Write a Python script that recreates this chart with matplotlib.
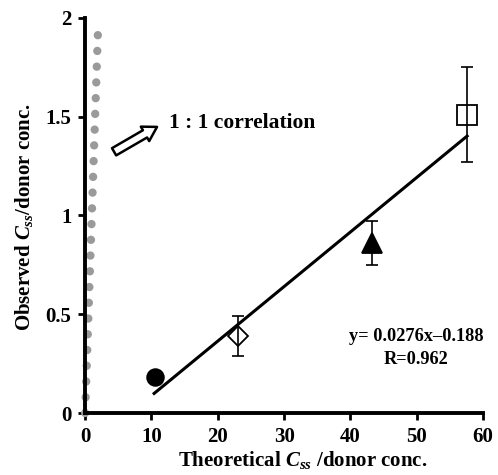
import matplotlib
matplotlib.use("Agg")
import matplotlib.pyplot as plt
import numpy as np

plt.rcParams["font.family"] = ["Liberation Serif", "DejaVu Serif"]
plt.rcParams["font.weight"] = "bold"
plt.rcParams["mathtext.fontset"] = "custom"
plt.rcParams["mathtext.rm"] = "Liberation Serif:bold"
plt.rcParams["mathtext.it"] = "Liberation Serif:italic:bold"
plt.rcParams["mathtext.bf"] = "Liberation Serif:bold"

# data
theo_css = [10.6, 23.1, 43.3, 57.6]
obs_css = [0.18, 0.39, 0.86, 1.51]
obs_err = [0.0, 0.10, 0.11, 0.24]
markers = ["o", "D", "^", "s"]
filled = [True, False, True, False]
msizes = [12, 10.5, 14, 15]

slope, intercept = 0.0276, -0.188
fit_x = [10.4, 57.6]

one_to_one = [0.0, 1.95]

fig = plt.figure(figsize=(4.98, 4.75), dpi=100)
ax = fig.add_axes([0.171, 0.1305, 0.799, 0.832])

# 1:1 line as grey dots
ax.plot(one_to_one, one_to_one, color="#9a9a9a", lw=6,
        linestyle=(0, (0.01, 1.88)), dash_capstyle="round", zorder=2,
        clip_on=False)

# regression line
fx = np.array(fit_x)
ax.plot(fx, slope * fx + intercept, color="black", lw=2.2, zorder=3)

for x, y, e, m, f, s in zip(theo_css, obs_css, obs_err, markers, filled, msizes):
    if e > 0:
        ax.errorbar(x, y, yerr=e, fmt="none", ecolor="black", elinewidth=1.2,
                    capsize=4, capthick=1.2, zorder=4)
    ax.plot(x, y, marker=m, markersize=s, linestyle="none",
            markerfacecolor="black" if f else "none",
            markeredgecolor="black", markeredgewidth=1.3, zorder=5)

ax.annotate("", xy=(11.2, 1.455), xytext=(4.0, 1.315),
            arrowprops=dict(arrowstyle="simple,head_length=1.0,head_width=1.2,tail_width=0.6",
                            facecolor="white", edgecolor="black", lw=1.8))
ax.text(12.6, 1.47, "1 : 1 correlation", fontsize=15.5, fontweight="bold",
        va="center", ha="left")

ax.text(49.9, 0.385, "y= 0.0276x\u20130.188", fontsize=13.2, fontweight="bold",
        ha="center", va="center")
ax.text(49.9, 0.27, "R=0.962", fontsize=13.2, fontweight="bold",
        ha="center", va="center")

ax.set_xlim(0, 60)
ax.set_ylim(0, 2)
ax.set_xticks([0, 10, 20, 30, 40, 50, 60])
ax.set_yticks([0, 0.5, 1, 1.5, 2])
ax.set_yticklabels(["0", "0.5", "1", "1.5", "2"])

for side in ["top", "right"]:
    ax.spines[side].set_visible(False)
for side in ["left", "bottom"]:
    ax.spines[side].set_linewidth(2.8)

ax.tick_params(axis="both", direction="out", length=5, width=2,
               labelsize=15, pad=5)
for lab in ax.get_xticklabels() + ax.get_yticklabels():
    lab.set_fontweight("bold")

ax.set_xlabel(r"Theoretical $C_{ss}$ /donor conc.", fontsize=15, fontweight="bold")
ax.set_ylabel(r"Observed $C_{ss}$/donor conc.", fontsize=15, fontweight="bold")
ax.xaxis.set_label_coords(0.548, -0.092)
ax.yaxis.set_label_coords(-0.125, 0.495)

fig.savefig("out.png", dpi=100)
